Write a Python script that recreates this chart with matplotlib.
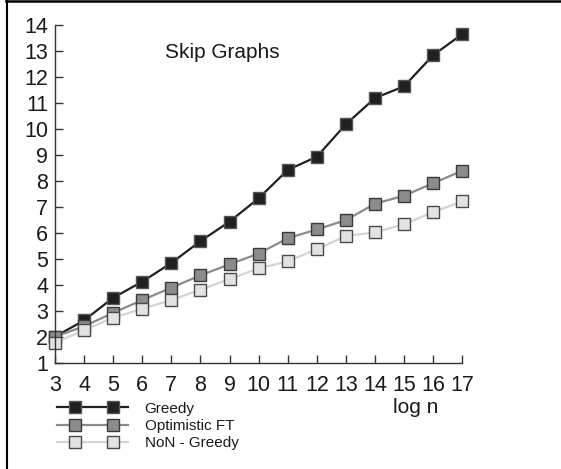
import matplotlib
matplotlib.use("Agg")
import matplotlib.pyplot as plt
from matplotlib.lines import Line2D
from matplotlib.legend_handler import HandlerLine2D

plt.rcParams['font.family'] = ['Liberation Sans', 'DejaVu Sans']

log_n = [3, 4, 5, 6, 7, 8, 9, 10, 11, 12, 13, 14, 15, 16, 17]
greedy = [2.0, 2.63, 3.5, 4.12, 4.84, 5.68, 6.43, 7.33, 8.42, 8.93, 10.18, 11.19, 11.64, 12.84, 13.65]
optimistic_ft = [2.0, 2.4, 2.92, 3.41, 3.89, 4.36, 4.79, 5.2, 5.79, 6.13, 6.49, 7.12, 7.43, 7.91, 8.39]
non_greedy = [1.77, 2.25, 2.73, 3.08, 3.41, 3.81, 4.22, 4.63, 4.9, 5.37, 5.88, 6.02, 6.33, 6.8, 7.21]
series_labels = ["Greedy", "Optimistic FT", "NoN - Greedy"]
x_ticks = list(range(3, 18))
y_ticks = list(range(1, 15))


class FullLineHandler(HandlerLine2D):
    """Line spans the whole handle; the two markers sit inset from its ends."""

    def __init__(self, inset=1.0, **kw):
        super().__init__(numpoints=2, **kw)
        self._inset = inset

    def create_artists(self, legend, orig_handle, xdescent, ydescent,
                       width, height, fontsize, trans):
        y = ((height - ydescent) / 2.0)
        line = Line2D([-xdescent, -xdescent + width], [y, y])
        self.update_prop(line, orig_handle, legend)
        line.set_marker("None")
        pad = self._inset * fontsize
        marks = Line2D([-xdescent + pad, width - pad * 0.82], [y, y])
        self.update_prop(marks, orig_handle, legend)
        marks.set_linestyle("None")
        line.set_transform(trans)
        marks.set_transform(trans)
        return [line, marks]


W, H = 561, 469
fig = plt.figure(figsize=(W / 100, H / 100), dpi=100)
ax = fig.add_axes([55 / W, 1 - 362.7 / H, (462.3 - 55) / W, (362.7 - 25) / H])

styles = [
    dict(color="#231f20", mfc="#231f20", mec="#555555"),
    dict(color="#8a8a8a", mfc="#8c8c8c", mec="#3a3a3a"),
    dict(color="#d4d4d4", mfc="#e2e2e2", mec="#4a4a4a"),
]
handles = []
for vals, lab, st in zip([greedy, optimistic_ft, non_greedy], series_labels, styles):
    h, = ax.plot(log_n, vals, color=st["color"], lw=1.6, marker="s", ms=8,
                 mfc=st["mfc"], mec=st["mec"], mew=1.0, label=lab, clip_on=False)
    handles.append(h)

ax.set_xlim(3, 17)
ax.set_ylim(1, 14)
ax.set_xticks(x_ticks)
ax.set_yticks(y_ticks)
for s in ["top", "right"]:
    ax.spines[s].set_visible(False)
for s in ["left", "bottom"]:
    ax.spines[s].set_color("#333333")
    ax.spines[s].set_linewidth(1.0)
ax.tick_params(direction="in", length=6, width=1.0, color="#333333",
               labelsize=15.5, labelcolor="#1a1a1a")
ax.tick_params(axis="x", pad=9)
ax.tick_params(axis="y", pad=5)

fig.text(165 / W, 1 - 53 / H, "Skip Graphs", fontsize=15, va="center", ha="left", color="#1a1a1a")
fig.text(393 / W, 1 - 407 / H, "log n", fontsize=15, va="center", ha="left", color="#1a1a1a")

leg = ax.legend(handles=handles, loc="upper left",
                bbox_to_anchor=(57 / W, 1 - 401.5 / H), bbox_transform=fig.transFigure,
                frameon=False, fontsize=11, borderpad=0, borderaxespad=0,
                handlelength=4.64, handletextpad=1.1, labelspacing=0.22,
                handler_map={Line2D: FullLineHandler(inset=1.15)})
for t in leg.get_texts():
    t.set_color("#1a1a1a")

# page frame on the left and top edges
fig.add_artist(Line2D([6.5 / W, 6.5 / W], [0, 1], transform=fig.transFigure, color="black", lw=1.5))
fig.add_artist(Line2D([6 / W, 1], [1 - 0.7 / H, 1 - 0.7 / H], transform=fig.transFigure, color="black", lw=1.8))

fig.savefig("out.png", dpi=100)
